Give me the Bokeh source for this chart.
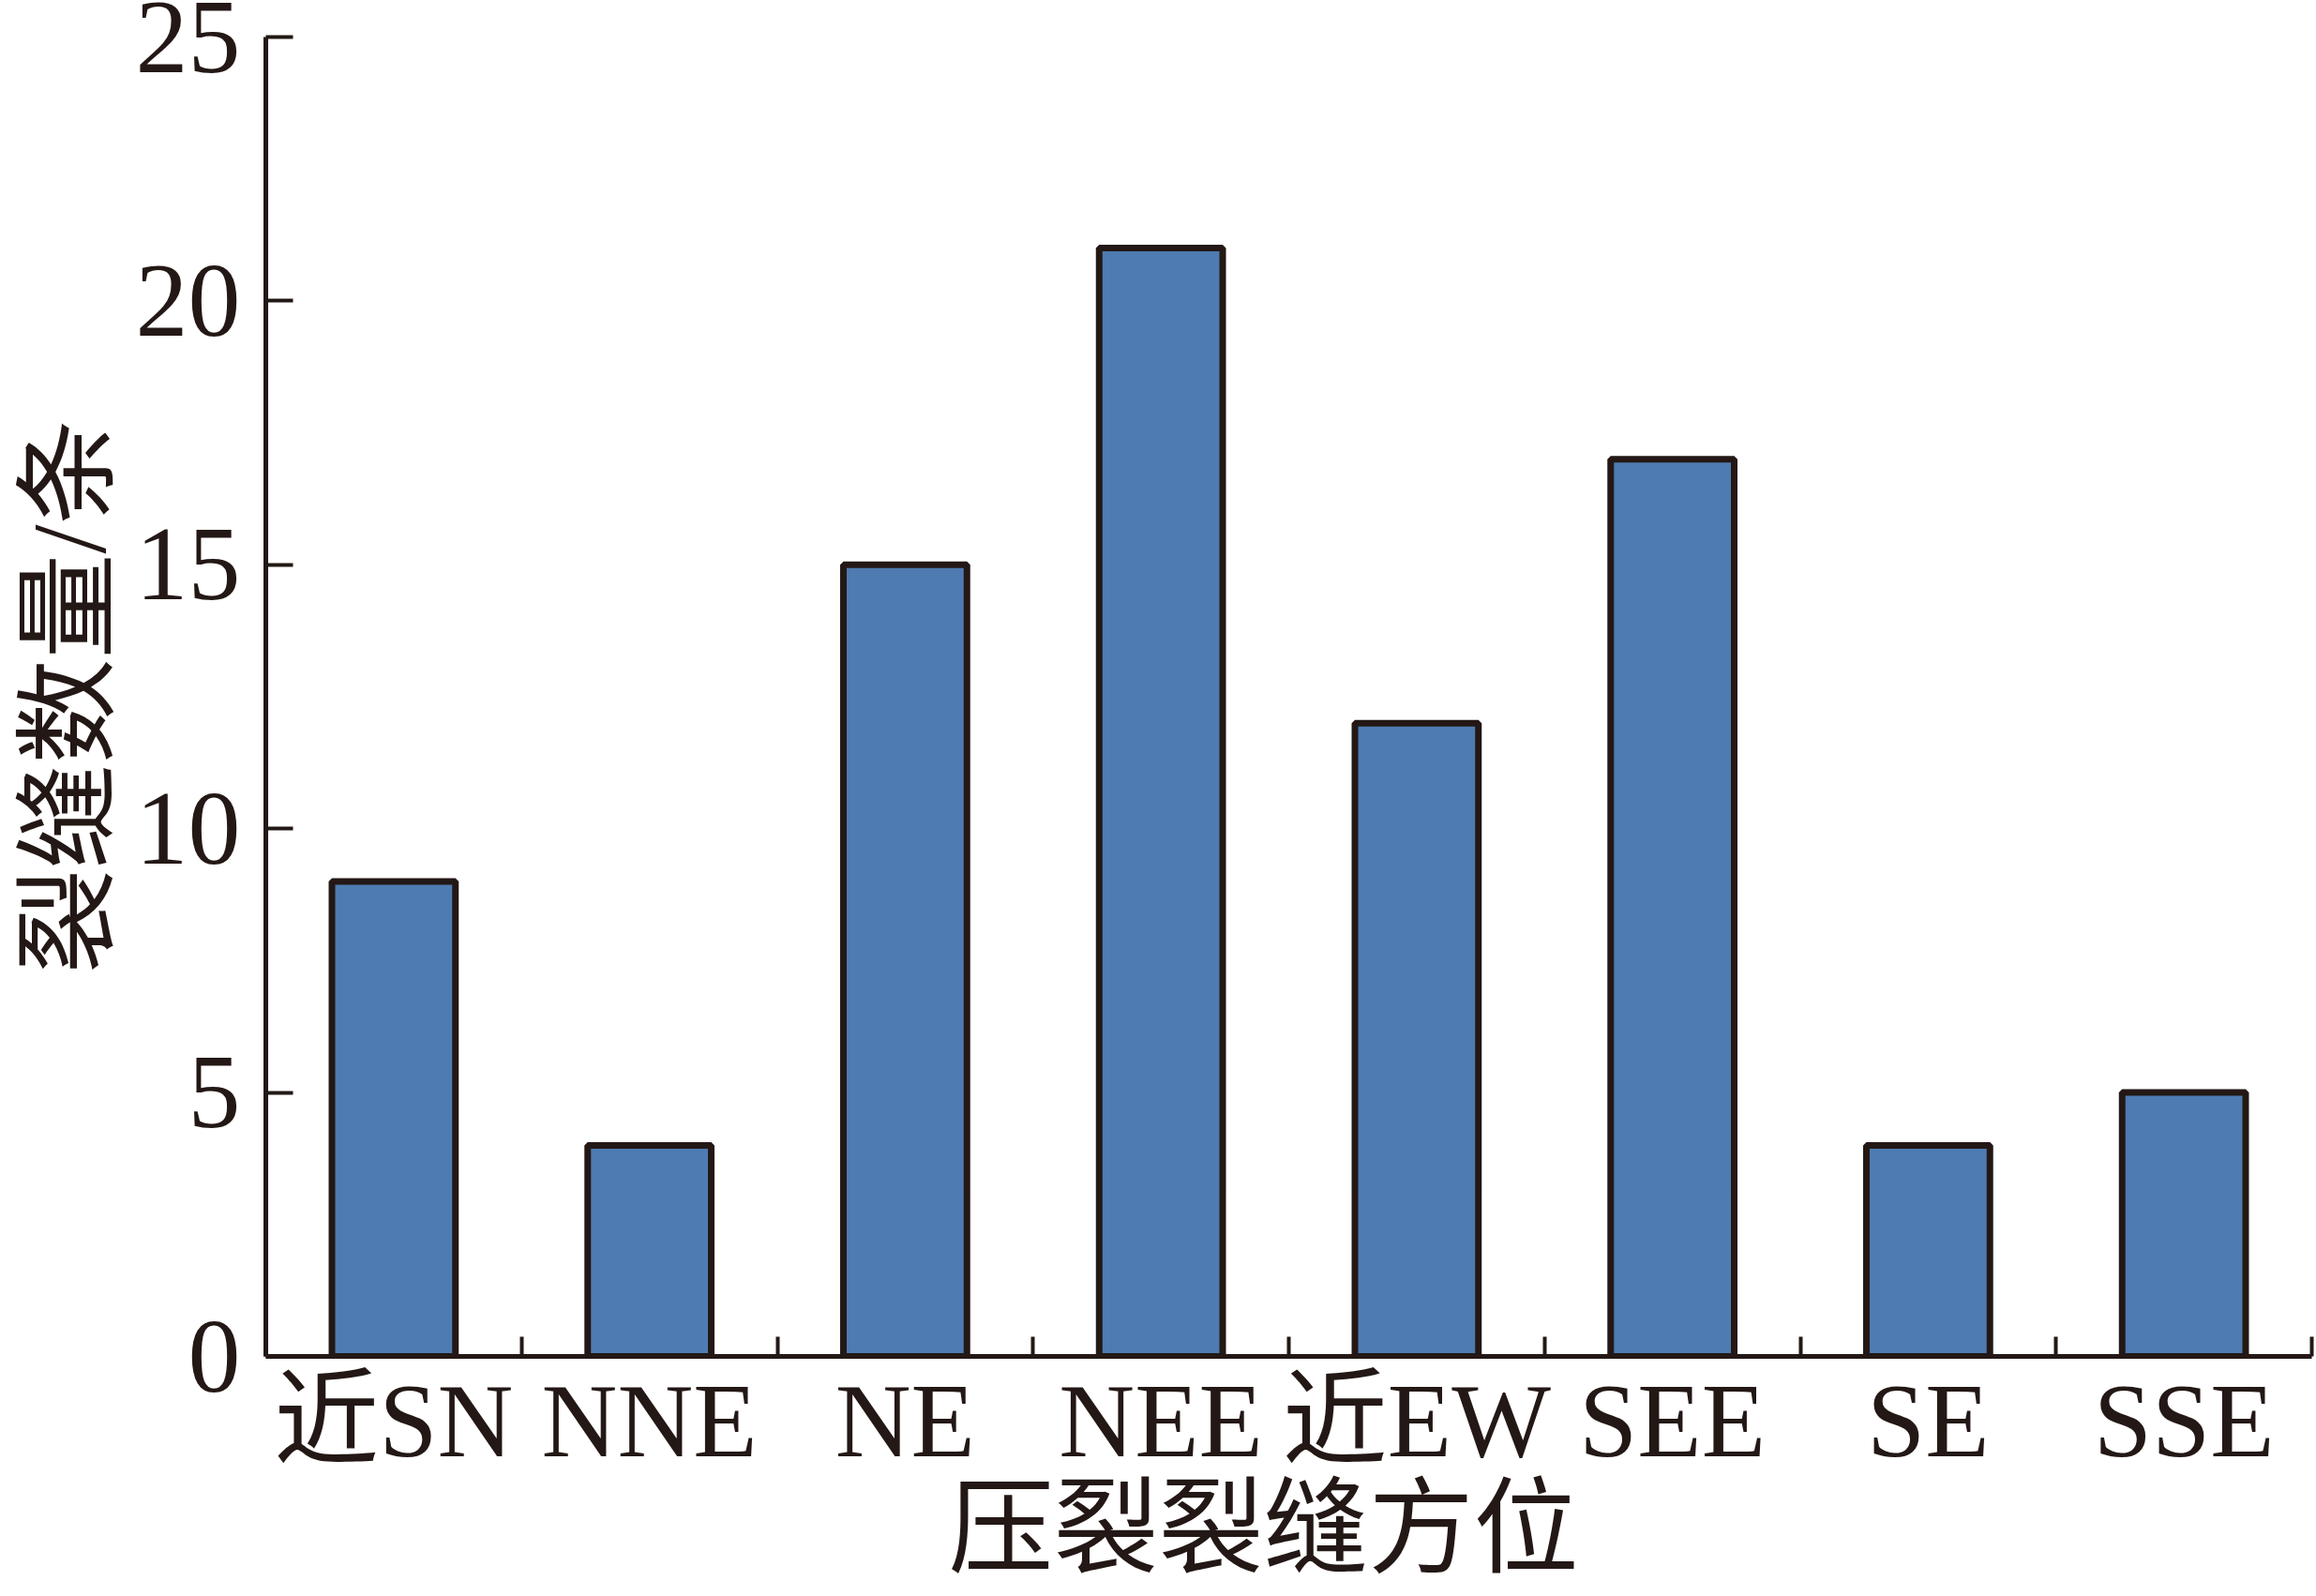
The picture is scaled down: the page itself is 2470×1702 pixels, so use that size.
from bokeh.plotting import figure
from bokeh.models import Range1d, FixedTicker, Title
from bokeh.embed import file_html
from bokeh.resources import INLINE

categories = ["近SN", "NNE", "NE", "NEE", "近EW", "SEE", "SE", "SSE"]
counts = [9, 4, 15, 21, 12, 17, 4, 5]
y_ticks = [0, 5, 10, 15, 20, 25]
x_title = "压裂裂缝方位"
y_title = "裂缝数量/条"

INK = "#231815"
BAR = "#4e7bb1"
FONT = "Liberation Serif, Noto Sans CJK SC"

positions = list(range(len(categories)))
boundaries = [i - 0.5 for i in range(len(categories) + 1)]

p = figure(width=2470, height=1702, output_backend="svg", toolbar_location=None,
           x_range=Range1d(-0.5, len(categories) - 0.5), y_range=Range1d(0, max(y_ticks)),
           min_border_left=283, min_border_right=5, min_border_top=39, min_border_bottom=256)

p.vbar(x=positions, top=counts, width=0.483, bottom=0,
       fill_color=BAR, line_color=INK, line_width=7)

p.grid.visible = False
p.outline_line_color = None
p.background_fill_color = "white"
p.border_fill_color = "white"

for ax in p.axis:
    ax.axis_line_color = INK
    ax.axis_line_width = 5
    ax.major_label_text_font = FONT
    ax.major_label_text_color = INK
    ax.major_label_text_font_size = "112px"
    ax.axis_label_text_font = FONT
    ax.axis_label_text_font_style = "normal"
    ax.axis_label_text_color = INK
    ax.axis_label_text_font_size = "112px"

xa = p.xaxis[0]
xa.ticker = FixedTicker(ticks=positions, minor_ticks=boundaries)
xa.major_label_overrides = {i: c for i, c in enumerate(categories)}
xa.major_tick_line_color = None
xa.major_tick_in = 0
xa.major_tick_out = 0
xa.minor_tick_line_color = INK
xa.minor_tick_line_width = 4
xa.minor_tick_in = 21
xa.minor_tick_out = 0
xa.major_label_standoff = 6

ya = p.yaxis[0]
ya.ticker = FixedTicker(ticks=y_ticks)
ya.major_tick_line_color = INK
ya.major_tick_line_width = 4
ya.major_tick_in = 29
ya.major_tick_out = 0
ya.minor_tick_line_color = None
ya.major_label_standoff = 27
ya.axis_label = y_title
ya.axis_label_standoff = 6

# x-axis title as a title panel below the axis
p.add_layout(Title(text=x_title, align="left", offset=728, vertical_align="top", standoff=-22,
                   text_font=FONT, text_font_size="112px", text_font_style="normal",
                   text_color=INK), "below")

open("out.html", "w").write(file_html(p, INLINE))
